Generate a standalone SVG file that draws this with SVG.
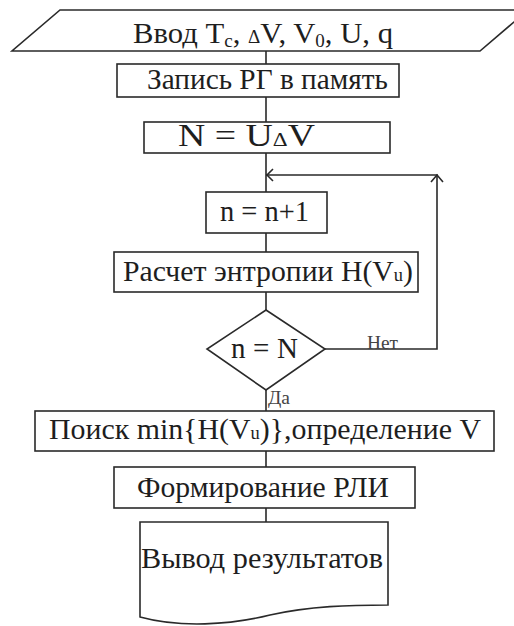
<svg xmlns="http://www.w3.org/2000/svg" width="514" height="626" viewBox="0 0 514 626">
<style>
.s{fill:#fff;stroke:#2a2a2a;stroke-width:1.6}
.c{fill:none;stroke:#2a2a2a;stroke-width:1.6}
.t{font-family:"Liberation Serif","Times New Roman",serif;font-size:29px;fill:#1e1e1e}
.l{font-family:"Liberation Serif","Times New Roman",serif;font-size:19px;fill:#444}
.sm{font-size:18px}
.sb{font-size:18px}
</style>
<rect width="514" height="626" fill="#fff"/>
<g id="connectors">
<path class="c" d="M266,51V64M266,97V122M266,153V192M266,233V252M266,292V310M266,390V411M266,451V467M266,508V522"/>
<path class="c" d="M325,349H437V175H266"/>
<path class="c" d="M273,169L267,175L273,181"/>
<path class="c" d="M431,182L437,175L443,182"/>
<text class="l" x="367" y="349" textLength="31" lengthAdjust="spacingAndGlyphs">Нет</text>
<text class="l" x="268" y="404" textLength="22" lengthAdjust="spacingAndGlyphs">Да</text>
</g>
<g id="input">
<polygon class="s" points="60,10 528,10 480,51 12,51"/>
<text class="t" x="133" y="43" textLength="260" lengthAdjust="spacingAndGlyphs">Ввод T<tspan class="sb" dy="4">c</tspan><tspan dy="-4">, </tspan><tspan class="sm">Δ</tspan>V, V<tspan class="sb" dy="4">0</tspan><tspan dy="-4">, U, q</tspan></text>
</g>
<g id="store">
<rect class="s" x="117" y="64" width="282" height="33"/>
<text class="t" x="147" y="89" textLength="241" lengthAdjust="spacingAndGlyphs">Запись РГ в память</text>
</g>
<g id="count">
<rect class="s" x="144" y="122" width="246" height="31"/>
<text class="t" x="178" y="146" style="font-size:31px" textLength="137" lengthAdjust="spacingAndGlyphs">N = U<tspan style="font-size:19px">Δ</tspan>V</text>
</g>
<g id="inc">
<rect class="s" x="206" y="192" width="121" height="41"/>
<text class="t" x="220" y="221" textLength="89" lengthAdjust="spacingAndGlyphs">n = n+1</text>
</g>
<g id="entropy">
<rect class="s" x="114" y="252" width="304" height="40"/>
<text class="t" x="123" y="281" textLength="290" lengthAdjust="spacingAndGlyphs">Расчет энтропии H(V<tspan class="sm">u</tspan>)</text>
</g>
<g id="decision">
<polygon class="s" points="266,310 325,349 266,390 207,349"/>
<text class="t" x="231" y="358" textLength="67" lengthAdjust="spacing">n = N</text>
</g>
<g id="search">
<rect class="s" x="35" y="411" width="459" height="40"/>
<text class="t" x="49" y="439" textLength="432" lengthAdjust="spacingAndGlyphs">Поиск min{H(V<tspan class="sm">u</tspan>)},определение V</text>
</g>
<g id="form">
<rect class="s" x="114" y="467" width="301" height="41"/>
<text class="t" x="137" y="497" textLength="252" lengthAdjust="spacingAndGlyphs">Формирование РЛИ</text>
</g>
<g id="output">
<path class="s" d="M140,522H388V605C350,605 310,606 270,615C230,625 180,628 140,617Z"/>
<text class="t" x="141" y="568" textLength="242" lengthAdjust="spacingAndGlyphs">Вывод результатов</text>
</g>
</svg>
